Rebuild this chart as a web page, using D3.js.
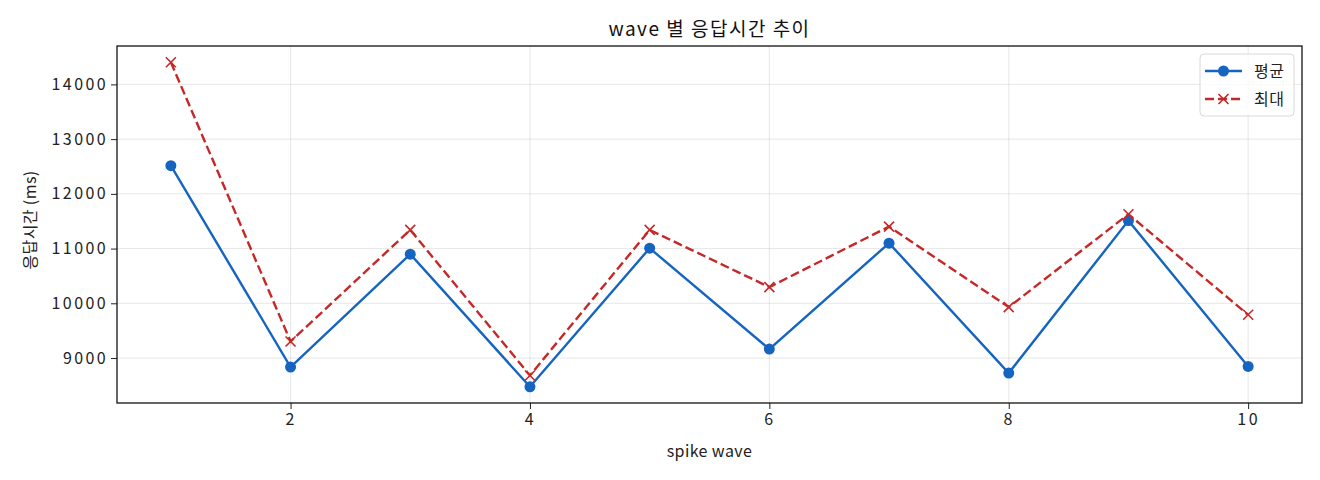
<!DOCTYPE html>
<html>
<head>
<meta charset="utf-8">
<script src="https://cdn.jsdelivr.net/npm/d3@7"></script>
<style>
  body { margin: 0; background: #fff; }
  svg { display: block; font-family: "Noto Sans CJK KR", "Noto Sans", sans-serif; }
</style>
</head>
<body>
<svg id="chart" width="1320" height="480"></svg>
<script>
const waves = [1, 2, 3, 4, 5, 6, 7, 8, 9, 10];
const avgMs = [12515, 8836, 10898, 8475, 11007, 9164, 11099, 8726, 11511, 8847];
const maxMs = [14405, 9303, 11341, 8682, 11341, 10296, 11402, 9931, 11628, 9790];
const xTicks = [2, 4, 6, 8, 10];
const yTicks = [9000, 10000, 11000, 12000, 13000, 14000];
const seriesNames = ['평균', '최대'];

const width = 1320;
const height = 480;
const margin = { left: 117, right: 18, top: 46, bottom: 77 };
const blue = '#1565c0';
const red = '#c62828';

const svg = d3.select('#chart');

// matplotlib-like 5% padding
const xPad = (d3.max(waves) - d3.min(waves)) * 0.05;
const yMin = d3.min(avgMs.concat(maxMs));
const yMax = d3.max(avgMs.concat(maxMs));
const yPad = (yMax - yMin) * 0.05;

const xScale = d3.scaleLinear()
  .domain([d3.min(waves) - xPad, d3.max(waves) + xPad])
  .range([margin.left, width - margin.right]);

const yScale = d3.scaleLinear()
  .domain([yMin - yPad, yMax + yPad])
  .range([height - margin.bottom, margin.top]);

// grid
svg.append('g')
  .selectAll('line.gx')
  .data(xTicks)
  .enter()
  .append('line')
  .attr('x1', d => xScale(d))
  .attr('x2', d => xScale(d))
  .attr('y1', margin.top)
  .attr('y2', height - margin.bottom)
  .attr('stroke', '#b0b0b0')
  .attr('stroke-opacity', 0.3)
  .attr('stroke-width', 1);

svg.append('g')
  .selectAll('line.gy')
  .data(yTicks)
  .enter()
  .append('line')
  .attr('x1', margin.left)
  .attr('x2', width - margin.right)
  .attr('y1', d => yScale(d))
  .attr('y2', d => yScale(d))
  .attr('stroke', '#b0b0b0')
  .attr('stroke-opacity', 0.3)
  .attr('stroke-width', 1);

// axes
const xAxis = d3.axisBottom(xScale).tickValues(xTicks).tickSize(6).tickPadding(5);
const yAxis = d3.axisLeft(yScale).tickValues(yTicks).tickSize(6).tickPadding(3).tickFormat(d3.format('d'));

const gx = svg.append('g')
  .attr('transform', `translate(0, ${height - margin.bottom})`)
  .call(xAxis);
const gy = svg.append('g')
  .attr('transform', `translate(${margin.left}, 0)`)
  .call(yAxis);

[gx, gy].forEach(g => {
  g.select('.domain').remove();
  g.selectAll('text')
    .attr('fill', '#222')
    .style('font-size', '16px')
    .style('letter-spacing', '2.4px')
    .style('font-family', '"Noto Sans CJK KR", sans-serif');
  g.selectAll('line').attr('stroke', '#222').attr('stroke-width', 1);
});

// lines
const line = d3.line()
  .x((d, i) => xScale(waves[i]))
  .y(d => yScale(d));

svg.append('path')
  .datum(avgMs)
  .attr('d', line)
  .attr('fill', 'none')
  .attr('stroke', blue)
  .attr('stroke-width', 2.4);

svg.selectAll('circle.avg')
  .data(avgMs)
  .enter()
  .append('circle')
  .attr('cx', (d, i) => xScale(waves[i]))
  .attr('cy', d => yScale(d))
  .attr('r', 5.5)
  .attr('fill', blue);

svg.append('path')
  .datum(maxMs)
  .attr('d', line)
  .attr('fill', 'none')
  .attr('stroke', red)
  .attr('stroke-width', 2.4)
  .attr('stroke-dasharray', '9,4');

const xMark = (cx, cy, s) => `M${cx - s},${cy - s}L${cx + s},${cy + s}M${cx - s},${cy + s}L${cx + s},${cy - s}`;

svg.selectAll('path.mx')
  .data(maxMs)
  .enter()
  .append('path')
  .attr('d', (d, i) => xMark(xScale(waves[i]), yScale(d), 5))
  .attr('stroke', red)
  .attr('stroke-width', 1.6)
  .attr('fill', 'none');

// frame
svg.append('rect')
  .attr('x', margin.left)
  .attr('y', margin.top)
  .attr('width', width - margin.left - margin.right)
  .attr('height', height - margin.top - margin.bottom)
  .attr('fill', 'none')
  .attr('stroke', '#111')
  .attr('stroke-width', 1.3);

// title & labels
svg.append('text')
  .attr('x', (margin.left + width - margin.right) / 2)
  .attr('y', 36)
  .attr('text-anchor', 'middle')
  .style('font-size', '19px')
  .style('letter-spacing', '1.5px')
  .attr('fill', '#111')
  .text('wave 별 응답시간 추이');

svg.append('text')
  .attr('x', (margin.left + width - margin.right) / 2)
  .attr('y', 457)
  .attr('text-anchor', 'middle')
  .style('font-size', '16px')
  .style('letter-spacing', '0.4px')
  .attr('fill', '#222')
  .text('spike wave');

svg.append('text')
  .attr('transform', 'rotate(-90)')
  .attr('x', -220)
  .attr('y', 36)
  .attr('text-anchor', 'middle')
  .style('font-size', '16px')
  .style('letter-spacing', '0.4px')
  .attr('fill', '#222')
  .text('응답시간 (ms)');

// legend
const legend = svg.append('g').attr('transform', 'translate(1200, 54)');
legend.append('rect')
  .attr('width', 94)
  .attr('height', 62)
  .attr('rx', 4)
  .attr('fill', '#fff')
  .attr('fill-opacity', 0.8)
  .attr('stroke', '#d8d8d8')
  .attr('stroke-width', 1);

const rows = legend.selectAll('g.row')
  .data(seriesNames)
  .enter()
  .append('g')
  .attr('transform', (d, i) => `translate(0, ${17 + i * 28})`);

rows.append('line')
  .attr('x1', 5)
  .attr('x2', 42)
  .attr('y1', 0)
  .attr('y2', 0)
  .attr('stroke', (d, i) => i === 0 ? blue : red)
  .attr('stroke-width', 2.4)
  .attr('stroke-dasharray', (d, i) => i === 0 ? null : '9,4');

rows.filter((d, i) => i === 0)
  .append('circle')
  .attr('cx', 23.5)
  .attr('cy', 0)
  .attr('r', 5.5)
  .attr('fill', blue);

rows.filter((d, i) => i === 1)
  .append('path')
  .attr('d', xMark(23.5, 0, 5))
  .attr('stroke', red)
  .attr('stroke-width', 1.6);

rows.append('text')
  .attr('x', 54)
  .attr('y', 0)
  .attr('dy', '0.35em')
  .style('font-size', '16px')
  .style('letter-spacing', '0.5px')
  .attr('fill', '#222')
  .text(d => d);
</script>
</body>
</html>
